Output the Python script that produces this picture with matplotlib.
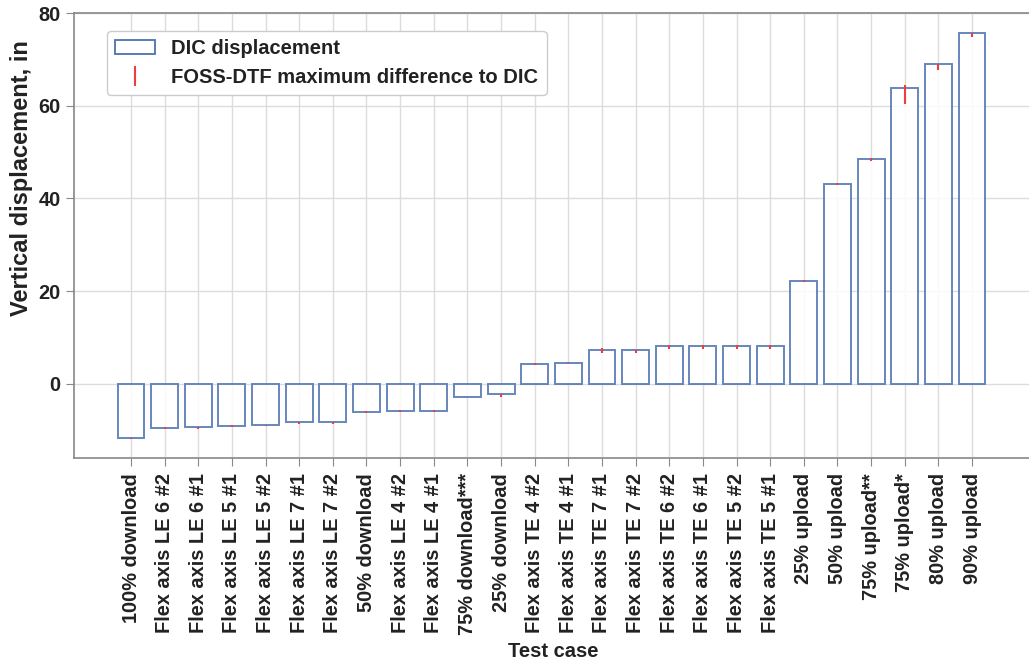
import matplotlib
matplotlib.use("Agg")
import matplotlib.pyplot as plt
from matplotlib.patches import Patch
from matplotlib.lines import Line2D
import numpy as np

plt.rcParams['font.family'] = ['Liberation Sans', 'DejaVu Sans']
plt.rcParams['font.weight'] = 'bold'

categories = ["100% download", "Flex axis LE 6 #2", "Flex axis LE 6 #1", "Flex axis LE 5 #1",
              "Flex axis LE 5 #2", "Flex axis LE 7 #1", "Flex axis LE 7 #2", "50% download",
              "Flex axis LE 4 #2", "Flex axis LE 4 #1", "75% download***", "25% download",
              "Flex axis TE 4 #2", "Flex axis TE 4 #1", "Flex axis TE 7 #1", "Flex axis TE 7 #2",
              "Flex axis TE 6 #2", "Flex axis TE 6 #1", "Flex axis TE 5 #2", "Flex axis TE 5 #1",
              "25% upload", "50% upload", "75% upload**", "75% upload*", "80% upload", "90% upload"]
dic = [-11.7, -9.5, -9.4, -9.0, -8.9, -8.3, -8.3, -6.0, -5.8, -5.8, -2.8, -2.3,
       4.3, 4.6, 7.3, 7.3, 8.2, 8.2, 8.2, 8.2, 22.2, 43.1, 48.4, 63.8, 69.0, 75.6]
err_low = [0.2, 0.3, 0.3, 0.3, 0.3, 0.3, 0.3, 0.2, 0.3, 0.3, 0.1, 0.5,
           0.2, 0.2, 0.7, 0.7, 0.7, 0.6, 0.6, 0.6, 0.2, 0.2, 0.3, 3.4, 1.2, 0.7]
err_high = [0.1, 0.1, 0.1, 0.1, 0.1, 0.1, 0.1, 0.1, 0.1, 0.1, 0.0, 0.0,
            0.1, 0.1, 0.4, 0.0, 0.1, 0.1, 0.1, 0.1, 0.1, 0.2, 0.3, 0.7, 0.1, 0.1]
yticks = [0, 20, 40, 60, 80]

fig = plt.figure(figsize=(10.29, 6.66), dpi=100)
ax = fig.add_axes([74/1029, 1-458/666, 958/1029, (458-13)/666])

x = np.arange(len(categories))
blue = '#4C72B0'
red = '#f03c3c'
txt = '#222222'
ax.bar(x, dic, width=0.8, facecolor='white', edgecolor=blue, linewidth=1.4, alpha=0.85, zorder=2)
ax.errorbar(x, dic, yerr=[err_low, err_high], fmt='none', ecolor=red, elinewidth=1.5, zorder=3)

ax.set_xlim(-1.695, -1.695 + 958/33.64)
ax.set_ylim(-16, 80)
ax.set_yticks(yticks)
ax.set_xticks(x)
ax.set_xticklabels(categories, rotation=90, fontsize=14.4, fontweight='bold', color=txt)
ax.tick_params(axis='y', labelsize=14.4, length=6, color='#888888', labelcolor=txt)
ax.tick_params(axis='x', length=6, color='#888888', pad=5)
for lab in ax.get_yticklabels():
    lab.set_fontweight('bold')
ax.grid(True, color='#dcdcdc', linewidth=1.0, zorder=0)
ax.set_axisbelow(True)
for s in ax.spines.values():
    s.set_color('#888888')
    s.set_linewidth(1.2)

ax.set_ylabel("Vertical displacement, in", fontsize=17, fontweight='bold', color=txt)
ax.yaxis.set_label_coords(-0.043, 0.63)
ax.set_xlabel("Test case", fontsize=14.5, fontweight='bold', color=txt, labelpad=5)

handles = [Patch(facecolor='white', edgecolor=blue, linewidth=1.3),
           Line2D([], [], color=red, marker='|', linestyle='none', markersize=14, markeredgewidth=1.5)]
leg = ax.legend(handles, ["DIC displacement", "FOSS-DTF maximum difference to DIC"],
                loc='upper left', bbox_to_anchor=(107/1029, 1-31/666), bbox_transform=fig.transFigure,
                borderaxespad=0, fontsize=14.5, frameon=True, fancybox=True, framealpha=1)
leg.get_frame().set_edgecolor('#cccccc')
for t in leg.get_texts():
    t.set_fontweight('bold')
    t.set_color(txt)

fig.savefig("out.png", dpi=100)
